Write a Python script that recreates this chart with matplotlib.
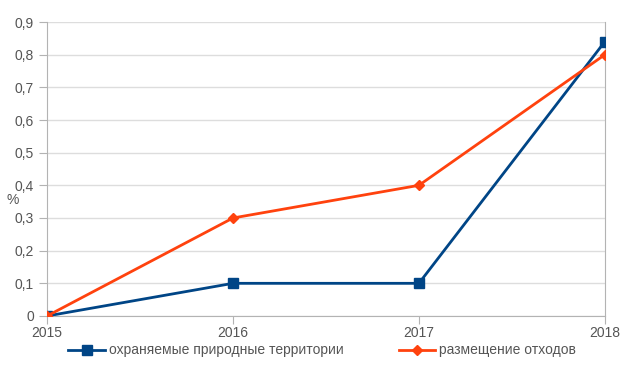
import matplotlib.pyplot as plt
from matplotlib.ticker import FuncFormatter

plt.rcParams['font.family'] = ['Liberation Sans', 'DejaVu Sans']

# данные
years = [2015, 2016, 2017, 2018]
protected = [0, 0.1, 0.1, 0.84]
waste = [0, 0.3, 0.4, 0.8]
y_ticks = [0, 0.1, 0.2, 0.3, 0.4, 0.5, 0.6, 0.7, 0.8, 0.9]

grey = '#b3b3b3'
text_col = '#555555'

fig = plt.figure(figsize=(6.32, 3.67), dpi=100)
ax = fig.add_axes([0.0744, 0.139, 0.8826, 0.801])

ax.plot(years, protected, color='#004586', lw=2, marker='s', markersize=7,
        label='охраняемые природные территории', zorder=3)
ax.plot(years, waste, color='#ff420e', lw=2, marker='D', markersize=5,
        label='размещение отходов', zorder=3)

ax.set_xlim(2015, 2018)
ax.set_ylim(0, 0.9)
ax.set_xticks(years)
ax.set_yticks(y_ticks)
ax.yaxis.set_major_formatter(FuncFormatter(lambda v, p: '0' if v == 0 else f'{v:.1f}'.replace('.', ',')))

ax.grid(axis='y', color='#dddddd', lw=1)
ax.set_axisbelow(True)
for s in ['left', 'bottom', 'right']:
    ax.spines[s].set_color(grey)
ax.spines['top'].set_visible(False)
ax.tick_params(colors=grey, labelcolor=text_col, labelsize=10, length=6)
ax.tick_params(axis='x', pad=1)

ax.set_ylabel('%', rotation=0, color=text_col, fontsize=10, va='center', ha='center')
ax.yaxis.set_label_coords(-0.062, 0.395)

fig.legend(loc='center', bbox_to_anchor=(0.51, 0.045), ncol=2, frameon=False,
           fontsize=10, labelcolor=text_col, handlelength=2.6, columnspacing=4,
           handletextpad=0.3)

fig.savefig('out.png', dpi=100)
